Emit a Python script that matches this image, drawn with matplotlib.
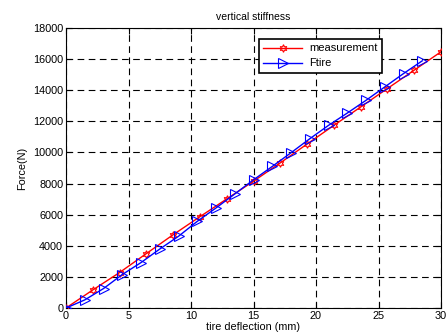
import numpy as np
import matplotlib
matplotlib.use("Agg")
import matplotlib.pyplot as plt

# Data
meas_x = np.linspace(0, 30, 15)
meas_y = [0, 1160, 2280, 3500, 4710, 5870, 7010, 8150, 9330, 10540,
          11740, 12920, 14110, 15290, 16470]
ftire_x = np.arange(0, 29, 1.5)
ftire_y = [0, 520, 1250, 2150, 2920, 3790, 4610, 5570, 6430, 7330,
           8240, 9100, 9980, 10880, 11740, 12530, 13350, 14210, 15070, 15890]
xticks = [0, 5, 10, 15, 20, 25, 30]
yticks = [0, 2000, 4000, 6000, 8000, 10000, 12000, 14000, 16000, 18000]

plt.rcParams['font.family'] = ['Liberation Sans', 'DejaVu Sans']
fig = plt.figure(figsize=(4.46, 3.36), dpi=100)
ax = fig.add_axes([66/446, 1-308/336, (441-66)/446, (308-28)/336])

ax.plot(meas_x, meas_y, color='red', lw=1.0, marker=(6, 1, 0), ms=5.5,
        mfc='none', mec='red', mew=0.8, label='measurement', zorder=3)
ax.plot(ftire_x, ftire_y, color='blue', lw=1.0, marker='>', ms=6.5,
        mfc='none', mec='blue', mew=0.8, label='Ftire', zorder=3)

ax.set_xlim(0, 30)
ax.set_ylim(0, 18000)
ax.set_xticks(xticks)
ax.set_yticks(yticks)
ax.tick_params(direction='in', top=True, right=True, labelsize=7.8,
               length=4, width=0.8, pad=2)
ax.grid(True, color='black', linestyle=(0, (6, 4)), linewidth=0.8)
for s in ax.spines.values():
    s.set_linewidth(0.8)

ax.set_title('vertical stiffness', fontsize=7.5, pad=6)
ax.set_xlabel('tire deflection (mm)', fontsize=7.8, labelpad=1)
ax.set_ylabel('Force(N)', fontsize=7.8, labelpad=4)

leg = ax.legend(loc='upper left', bbox_to_anchor=((259-66)/375, 1-(39-28)/280),
                fontsize=8.0, fancybox=False, framealpha=1, edgecolor='black',
                borderpad=0.4, handlelength=3.5, labelspacing=0.45,
                handletextpad=0.6, borderaxespad=0)
leg.get_frame().set_linewidth(1.2)

fig.savefig('out.png', dpi=100)
